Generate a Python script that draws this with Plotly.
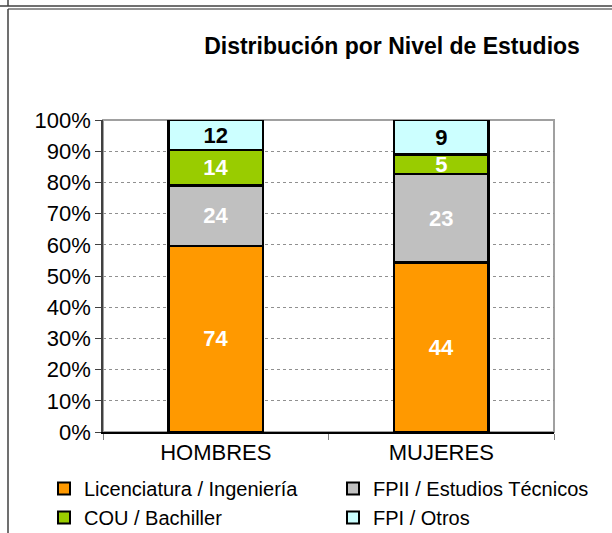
import plotly.graph_objects as go

categories = ["HOMBRES", "MUJERES"]
series_names = ["Licenciatura / Ingeniería", "FPII / Estudios Técnicos", "COU / Bachiller", "FPI / Otros"]
licenciatura = [74, 44]
fpii = [24, 23]
cou = [14, 5]
fpi = [12, 9]
y_ticks = [0, 10, 20, 30, 40, 50, 60, 70, 80, 90, 100]
y_tick_labels = [f"{v}%" for v in y_ticks]

colors = ["#FF9900", "#C0C0C0", "#99CC00", "#CCFFFF"]
text_colors = ["white", "white", "white", "black"]
values = [licenciatura, fpii, cou, fpi]
legend_ids = ["legend", "legend2", "legend", "legend2"]

W, H = 612, 533
L, R, T, B = 103, 554, 120, 432
FONT = "Liberation Sans, Arial"

fig = go.Figure()
for name, vals, col, tcol in zip(series_names, values, colors, text_colors):
    fig.add_trace(go.Bar(
        x=categories, y=vals, name=name, marker=dict(color=col, line=dict(color="black", width=2.5)),
        text=[str(v) for v in vals], textposition="inside", insidetextanchor="middle",
        constraintext="none", textangle=0,
        textfont=dict(family=FONT, size=22, color=tcol, weight="bold"),
        showlegend=False, hoverinfo="skip",
    ))

# legend entries with small square markers (two columns via two legends)
for name, col, lg in zip(series_names, colors, legend_ids):
    fig.add_trace(go.Scatter(
        x=[None], y=[None], mode="markers", name=name, legend=lg, legendgroup=name,
        marker=dict(symbol="square", size=12, color=col, line=dict(color="black", width=2)),
    ))

def px(x):
    return (x - L) / (R - L)

def py(y):
    return (B - y) / (B - T)

frame_dark = dict(color="#404040", width=1.5)
frame = dict(color="#707070", width=1.5)
shapes = [
    dict(type="rect", xref="paper", yref="paper", x0=0, x1=1, y0=0, y1=1,
         line=dict(color="#A0A0A0", width=2), layer="below"),
    dict(type="line", xref="paper", yref="paper", x0=px(0), x1=px(W), y0=py(6), y1=py(6), line=frame_dark),
    dict(type="line", xref="paper", yref="paper", x0=px(8), x1=px(8), y0=py(0), y1=py(6), line=frame_dark),
    dict(type="line", xref="paper", yref="paper", x0=px(8), x1=px(W), y0=py(9), y1=py(9), line=frame),
    dict(type="line", xref="paper", yref="paper", x0=px(8), x1=px(8), y0=py(9), y1=py(H), line=frame_dark),
]

legend_common = dict(xref="container", yref="container", xanchor="left", yanchor="top",
                     orientation="v", traceorder="normal", font=dict(family=FONT, size=20, color="black"),
                     itemwidth=30, tracegroupgap=3, bgcolor="rgba(0,0,0,0)", borderwidth=0)

fig.update_layout(
    width=W, height=H,
    margin=dict(l=L, r=W - R, t=T, b=H - B, pad=0, autoexpand=False),
    barmode="stack", barnorm="percent", bargap=0.58,
    paper_bgcolor="white", plot_bgcolor="white",
    font=dict(family=FONT, color="black"),
    title=dict(text="<b>Distribución por Nivel de Estudios</b>", xref="container", x=392 / W,
               xanchor="center", yref="container", y=1 - 46 / H, yanchor="middle",
               font=dict(family=FONT, size=23, color="black")),
    xaxis=dict(showline=True, linecolor="black", linewidth=1.5, ticks="outside", ticklen=6,
               tickcolor="#808080", tickson="boundaries", tickfont=dict(size=22),
               showgrid=False),
    yaxis=dict(range=[0, 100], tickvals=y_ticks, ticktext=y_tick_labels, showline=True,
               linecolor="#404040", linewidth=1.5, ticks="outside", ticklen=6, tickcolor="#404040",
               showgrid=True, gridcolor="#909090", griddash="dot", gridwidth=1,
               tickfont=dict(size=22), zeroline=False),
    legend=dict(x=44 / W, y=1 - 469 / H, **legend_common),
    legend2=dict(x=333 / W, y=1 - 469 / H, **legend_common),
    shapes=shapes,
    showlegend=True,
)

fig.write_html(
    "out.html",
    config={"displayModeBar": False},
    post_script="document.body.style.margin='0';document.body.style.overflow='hidden';",
)
